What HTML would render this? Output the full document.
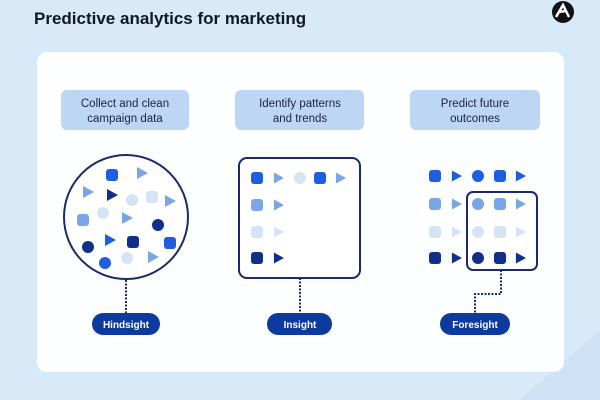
<!DOCTYPE html>
<html><head><meta charset="utf-8"><style>
html,body{margin:0;padding:0;width:600px;height:400px;overflow:hidden;background:#d8e9f7;}
svg{display:block;font-family:"Liberation Sans",sans-serif;}
</style></head><body>
<svg width="600" height="400" viewBox="0 0 600 400" xmlns="http://www.w3.org/2000/svg">
<defs>
<symbol id="t" viewBox="0 0 12 12"><path d="M1 0 L12 6 L1 12 Z"/></symbol>
</defs>
<rect width="600" height="400" fill="#d8e9f7"/>
<path d="M520 400 L600 330 L600 400 Z" fill="#cfe2f5"/>
<text x="34" y="24" font-size="17" font-weight="bold" fill="#111827">Predictive analytics for marketing</text>
<circle cx="563" cy="12" r="11" fill="#111"/>
<path d="M556 17 L563 5 L569 17 M558 12 L566 11" stroke="#fff" stroke-width="2.5" fill="none"/>
<rect x="37" y="52" width="527" height="320" rx="10" fill="#fdfeff"/>
<g fill="#bcd6f3">
<rect x="61" y="90" width="128" height="40" rx="6"/>
<rect x="235" y="90" width="129" height="40" rx="6"/>
<rect x="410" y="90" width="130" height="40" rx="6"/>
</g>
<g font-size="11.5" fill="#1a2340" text-anchor="middle">
<text x="125" y="107">Collect and clean</text><text x="125" y="122">campaign data</text>
<text x="300" y="107">Identify patterns</text><text x="300" y="122">and trends</text>
<text x="475" y="107">Predict future</text><text x="475" y="122">outcomes</text>
</g>
<!-- circle -->
<circle cx="126" cy="217" r="62" fill="#fff" stroke="#1a2a6c" stroke-width="2"/>
<g>
<rect x="106" y="169" width="12" height="12" rx="3" fill="#1d5fe0"/>
<use href="#t" x="136" y="167" width="12" height="12" fill="#7aa6e8"/>
<use href="#t" x="82" y="186" width="12" height="12" fill="#7aa6e8"/>
<use href="#t" x="106" y="189" width="12" height="12" fill="#0f2f8a"/>
<circle cx="132" cy="200" r="6" fill="#d6e3f5"/>
<rect x="146" y="191" width="12" height="12" rx="3" fill="#d6e3f5"/>
<use href="#t" x="164" y="195" width="12" height="12" fill="#7aa6e8"/>
<circle cx="103" cy="213" r="6" fill="#d6e3f5"/>
<rect x="77" y="214" width="12" height="12" rx="3" fill="#7aa6e8"/>
<use href="#t" x="121" y="212" width="12" height="12" fill="#7aa6e8"/>
<circle cx="158" cy="225" r="6" fill="#0f2f8a"/>
<use href="#t" x="104" y="234" width="12" height="12" fill="#1d5fe0"/>
<rect x="127" y="236" width="12" height="12" rx="3" fill="#0f2f8a"/>
<rect x="164" y="237" width="12" height="12" rx="3" fill="#1d5fe0"/>
<circle cx="88" cy="247" r="6" fill="#0f2f8a"/>
<circle cx="127" cy="258" r="6" fill="#d6e3f5"/>
<use href="#t" x="147" y="251" width="12" height="12" fill="#7aa6e8"/>
<circle cx="105" cy="263" r="6" fill="#1d5fe0"/>
</g>
<!-- box 2 -->
<rect x="239" y="158" width="121" height="120" rx="8" fill="#fff" stroke="#1a2a6c" stroke-width="2"/>
<g>
<rect x="251" y="172" width="12" height="12" rx="3" fill="#1d5fe0"/>
<use href="#t" x="273" y="172" width="11" height="12" fill="#7aa6e8"/>
<circle cx="300" cy="178" r="6" fill="#d6e3f5"/>
<rect x="314" y="172" width="12" height="12" rx="3" fill="#1d5fe0"/>
<use href="#t" x="335" y="172" width="11" height="12" fill="#7aa6e8"/>
<rect x="251" y="199" width="12" height="12" rx="3" fill="#7aa6e8"/>
<use href="#t" x="273" y="199" width="11" height="12" fill="#7aa6e8"/>
<rect x="251" y="226" width="12" height="12" rx="3" fill="#d6e3f5"/>
<use href="#t" x="273" y="226" width="11" height="12" fill="#d6e3f5"/>
<rect x="251" y="252" width="12" height="12" rx="3" fill="#0f2f8a"/>
<use href="#t" x="273" y="252" width="11" height="12" fill="#0f2f8a"/>
</g>
<!-- box 3 -->
<rect x="467" y="192" width="70" height="78" rx="6" fill="#fff" stroke="#1a2a6c" stroke-width="2"/>
<g>
<rect x="429" y="170" width="12" height="12" rx="3" fill="#1d5fe0"/>
<use href="#t" x="451" y="170" width="11" height="12" fill="#1d5fe0"/>
<circle cx="478" cy="176" r="6" fill="#1d5fe0"/>
<rect x="494" y="170" width="12" height="12" rx="3" fill="#1d5fe0"/>
<use href="#t" x="515" y="170" width="11" height="12" fill="#1d5fe0"/>
<rect x="429" y="198" width="12" height="12" rx="3" fill="#7aa6e8"/>
<use href="#t" x="451" y="198" width="11" height="12" fill="#7aa6e8"/>
<circle cx="478" cy="204" r="6" fill="#7aa6e8"/>
<rect x="494" y="198" width="12" height="12" rx="3" fill="#7aa6e8"/>
<use href="#t" x="515" y="198" width="11" height="12" fill="#7aa6e8"/>
<rect x="429" y="226" width="12" height="12" rx="3" fill="#d6e3f5"/>
<use href="#t" x="451" y="226" width="11" height="12" fill="#d6e3f5"/>
<circle cx="478" cy="232" r="6" fill="#d6e3f5"/>
<rect x="494" y="226" width="12" height="12" rx="3" fill="#d6e3f5"/>
<use href="#t" x="515" y="226" width="11" height="12" fill="#d6e3f5"/>
<rect x="429" y="252" width="12" height="12" rx="3" fill="#0f2f8a"/>
<use href="#t" x="451" y="252" width="11" height="12" fill="#0f2f8a"/>
<circle cx="478" cy="258" r="6" fill="#0f2f8a"/>
<rect x="494" y="252" width="12" height="12" rx="3" fill="#0f2f8a"/>
<use href="#t" x="515" y="252" width="11" height="12" fill="#0f2f8a"/>
</g>
<!-- connectors -->
<g stroke="#1a2a6c" stroke-width="2" stroke-dasharray="2,1.5" fill="none">
<path d="M126 280 V313"/>
<path d="M300 278 V313"/>
<path d="M501 270 V294 H475 V313"/>
</g>
<!-- pills -->
<g fill="#0d3a9e">
<rect x="92" y="313" width="68" height="22" rx="11"/>
<rect x="267" y="313" width="65" height="22" rx="11"/>
<rect x="440" y="313" width="70" height="22" rx="11"/>
</g>
<g font-size="10" font-weight="bold" fill="#fff" text-anchor="middle">
<text x="126" y="328">Hindsight</text>
<text x="300" y="328">Insight</text>
<text x="475" y="328">Foresight</text>
</g>
</svg>
</body></html>
